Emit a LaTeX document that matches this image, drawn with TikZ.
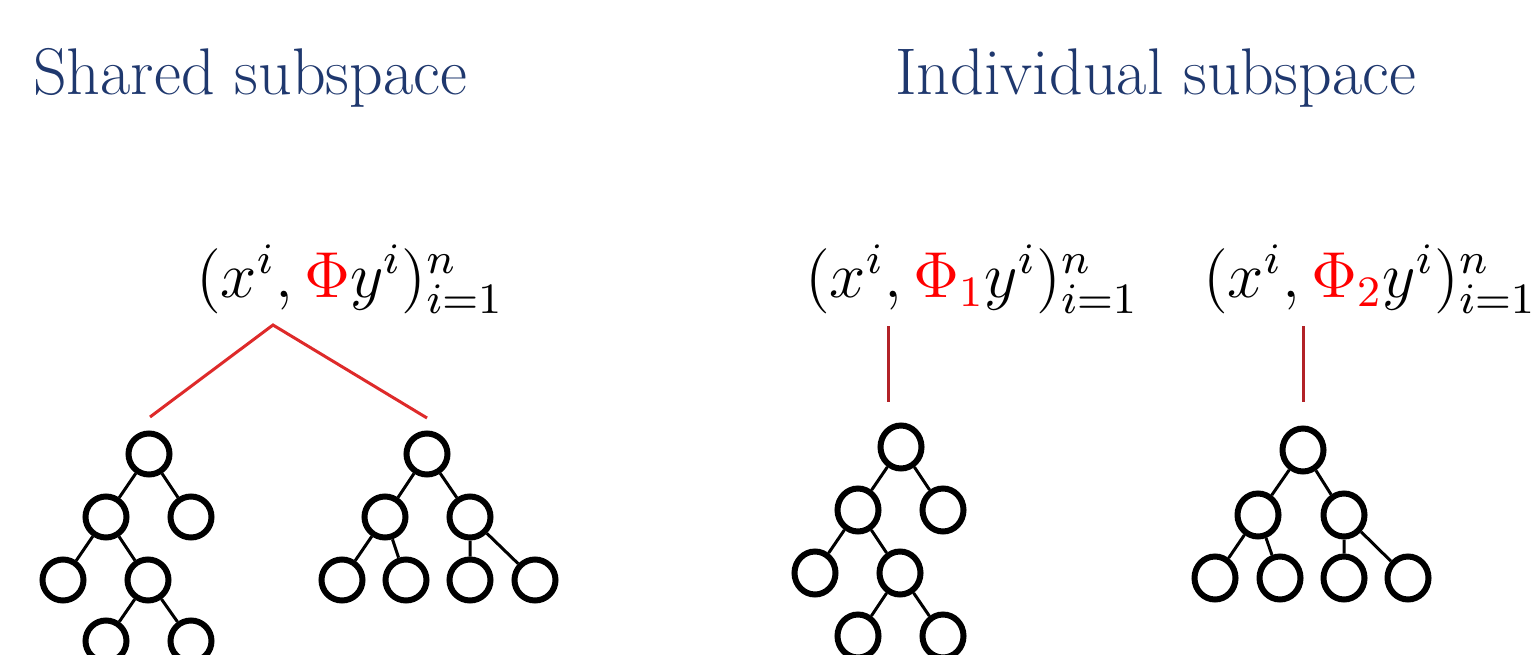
\documentclass[tikz,border=0pt]{standalone}
\usepackage{graphicx}
\usetikzlibrary{shapes.geometric}
\definecolor{titleblue}{RGB}{31,56,110}
\definecolor{linkred}{RGB}{222,42,42}
\definecolor{darkred}{RGB}{178,34,40}
\newcommand{\bigformula}[1]{\scalebox{5.42}{\fontsize{12}{14}\selectfont$#1$}}
\begin{document}
\begin{tikzpicture}[x=1pt,y=-1pt,
  title/.style={anchor=base west,inner sep=0pt,text=titleblue,font=\fontsize{66}{72}\selectfont},
  formula/.style={anchor=base west,inner sep=0pt},
  tn/.style={circle,draw,line width=6pt,minimum size=41pt,inner sep=0pt},
  te/.style={ellipse,draw,line width=6pt,minimum width=41pt,minimum height=43pt,inner sep=0pt},
  edge/.style={line width=3pt},
  link/.style={line width=3pt,linkred},
  vlink/.style={line width=3pt,darkred}]
\useasboundingbox (0,0) rectangle (1537,655);
\clip (0,0) rectangle (1537,655);
% titles
\node[title] (t1) at (33,95) {Shared subspace};
\node[title] (t2) at (895,95) {Individual subspace};
% formulas
\node[formula] (f1) at (196,297) {\bigformula{(x^i,\textcolor{red}{\Phi} y^i)_{i=1}^n}};
\node[formula] (f2) at (805,297) {\bigformula{(x^i,\textcolor{red}{\Phi_1} y^i)_{i=1}^n}};
\node[formula] (f3) at (1203,297) {\bigformula{(x^i,\textcolor{red}{\Phi_2} y^i)_{i=1}^n}};
% link coordinates
\coordinate (apex) at (273,325);
\coordinate (la) at (150,417);
\coordinate (lb) at (427,418);
\coordinate (v1a) at (888,326);
\coordinate (v1b) at (888,402);
\coordinate (v2a) at (1303,326);
\coordinate (v2b) at (1303,402);
\draw[link] (la) -- (apex) -- (lb);
\draw[vlink] (v1a) -- (v1b);
\draw[vlink] (v2a) -- (v2b);
% left tree 1
\node[tn] (a0) at (149,454) {};
\node[tn] (a1) at (106,517) {};
\node[tn] (a2) at (191,517) {};
\node[tn] (a3) at (63,580) {};
\node[tn] (a4) at (148,580) {};
\node[tn] (a5) at (106,641) {};
\node[tn] (a6) at (191,641) {};
\draw[edge] (a0)--(a1) (a0)--(a2) (a1)--(a3) (a1)--(a4) (a4)--(a5) (a4)--(a6);
% left tree 2
\node[tn] (b0) at (427,454) {};
\node[tn] (b1) at (385,517) {};
\node[tn] (b2) at (470,517) {};
\node[tn] (b3) at (342,580) {};
\node[tn] (b4) at (406,580) {};
\node[tn] (b5) at (470,580) {};
\node[tn] (b6) at (535,580) {};
\draw[edge] (b0)--(b1) (b0)--(b2) (b1)--(b3) (b1)--(b4) (b2)--(b5) (b2)--(b6);
% right tree 1
\node[te] (c0) at (901,447) {};
\node[te] (c1) at (858,510) {};
\node[te] (c2) at (943,510) {};
\node[te] (c3) at (815,573) {};
\node[te] (c4) at (900,573) {};
\node[te] (c5) at (858,636) {};
\node[te] (c6) at (943,636) {};
\draw[edge] (c0)--(c1) (c0)--(c2) (c1)--(c3) (c1)--(c4) (c4)--(c5) (c4)--(c6);
% right tree 2
\node[te] (d0) at (1303,450) {};
\node[te] (d1) at (1258,515) {};
\node[te] (d2) at (1344,515) {};
\node[te] (d3) at (1215,578) {};
\node[te] (d4) at (1280,578) {};
\node[te] (d5) at (1344,578) {};
\node[te] (d6) at (1408,578) {};
\draw[edge] (d0)--(d1) (d0)--(d2) (d1)--(d3) (d1)--(d4) (d2)--(d5) (d2)--(d6);
\end{tikzpicture}
\end{document}
